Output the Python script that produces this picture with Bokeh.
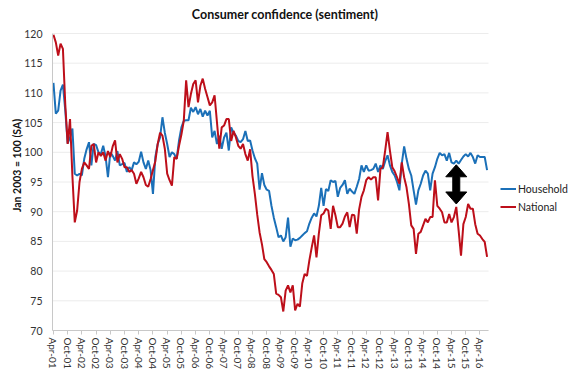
from bokeh.plotting import figure
from bokeh.models import FixedTicker, Range1d, Legend, LegendItem, Label
from bokeh.embed import file_html
from bokeh.resources import INLINE

# Monthly index values, Apr-01 ... Jul-16 (Jan 2003 = 100, seasonally adjusted)
household = [
    111.7, 106.5, 107.0, 110.4, 111.4, 107.0, 101.5, 102.5, 104.0, 96.4, 96.1, 96.4,
    96.1, 98.9, 100.5, 101.7, 97.8, 101.4, 101.2, 100.0, 99.7, 101.1, 99.3, 95.8,
    100.0, 99.4, 98.6, 100.2, 97.8, 98.0, 98.2, 96.7, 97.5, 97.0, 98.3, 98.0,
    98.4, 100.1, 98.3, 97.2, 98.6, 97.0, 93.0, 99.2, 101.4, 102.5, 105.9, 103.3,
    101.4, 99.2, 100.0, 99.7, 98.9, 102.0, 104.2, 105.3, 105.4, 105.4, 107.5, 106.8,
    107.6, 106.4, 107.3, 106.0, 107.0, 106.2, 107.0, 102.5, 103.6, 101.4, 102.8, 100.6,
    102.5, 103.3, 100.3, 104.2, 103.3, 102.8, 101.9, 101.7, 102.2, 103.6, 101.9, 102.0,
    100.3, 99.0, 98.1, 93.7, 96.5, 94.5, 93.7, 93.5, 91.0, 89.0, 87.4, 85.7,
    86.0, 85.0, 85.7, 89.0, 84.1, 85.5, 85.2, 85.3, 85.6, 86.0, 86.4, 86.7,
    88.0, 89.0, 89.7, 89.2, 91.0, 94.0, 91.0, 93.8, 93.5, 95.3, 95.0, 95.2,
    92.5, 94.0, 94.5, 95.3, 93.0, 93.9, 93.4, 93.0, 94.2, 95.5, 97.8, 96.7,
    97.8, 96.9, 97.0, 97.2, 98.1, 96.7, 97.8, 97.2, 98.5, 99.5, 97.8, 96.7,
    96.1, 95.0, 93.6, 98.1, 101.0, 98.9, 97.2, 96.1, 93.6, 91.2, 93.6, 94.7,
    96.1, 96.9, 96.4, 93.6, 96.4, 97.5, 98.9, 99.9, 99.5, 99.7, 98.6, 99.9,
    98.3, 98.1, 98.6, 98.1, 98.7, 99.3, 99.7, 99.3, 99.9, 99.2, 98.1, 99.5,
    99.2, 99.2, 99.2, 97.0,
]
national = [
    119.8, 118.5, 116.3, 118.3, 117.4, 108.0, 101.4, 105.6, 96.0, 88.2, 90.2, 95.0,
    97.2, 98.3, 97.8, 97.2, 101.1, 101.4, 98.3, 100.0, 99.4, 100.0, 98.6, 100.2,
    99.2, 101.0, 102.0, 98.3, 99.7, 98.9, 97.5, 97.5, 96.7, 97.0, 96.4, 94.7,
    95.6, 96.7, 95.8, 94.5, 94.2, 95.5, 97.0, 98.5, 101.4, 103.3, 102.8, 100.6,
    96.4, 95.3, 94.4, 99.2, 98.9, 101.1, 103.0, 105.3, 112.1, 107.6, 109.8, 111.5,
    112.1, 108.4, 111.2, 112.4, 110.7, 109.3, 107.9, 108.4, 109.6, 105.1, 100.6, 104.2,
    104.5, 105.6, 105.6, 101.9, 103.6, 102.5, 101.1, 100.6, 101.4, 99.7, 98.6, 100.5,
    96.0, 93.0, 89.5, 86.5, 84.5, 82.0, 81.5, 80.8, 80.2, 79.5, 76.2, 76.0,
    75.6, 73.2, 76.7, 77.6, 76.4, 77.6, 73.4, 74.5, 74.0, 77.9, 79.5, 79.2,
    81.8, 84.0, 86.0, 82.3, 86.3, 89.4, 89.7, 90.5, 90.2, 87.1, 91.0, 89.4,
    87.4, 87.4, 88.0, 89.2, 89.9, 87.4, 89.5, 89.4, 86.3, 90.4, 92.5, 93.6,
    95.3, 95.8, 95.4, 95.8, 95.8, 91.9, 97.2, 97.5, 100.3, 103.4, 100.3, 97.5,
    96.8, 95.8, 94.7, 98.3, 95.8, 94.1, 91.3, 87.7, 87.1, 82.9, 86.3, 86.6,
    87.7, 88.8, 88.2, 89.1, 89.1, 95.3, 91.0, 90.5, 89.9, 88.2, 88.2, 89.6,
    88.2, 89.1, 90.8, 86.8, 82.6, 87.9, 89.1, 91.3, 90.5, 90.5, 87.9, 86.3,
    86.0, 85.4, 84.9, 82.4,
]
tick_labels = [
    "Apr-01", "Oct-01", "Apr-02", "Oct-02", "Apr-03", "Oct-03", "Apr-04", "Oct-04",
    "Apr-05", "Oct-05", "Apr-06", "Oct-06", "Apr-07", "Oct-07", "Apr-08", "Oct-08",
    "Apr-09", "Oct-09", "Apr-10", "Oct-10", "Apr-11", "Oct-11", "Apr-12", "Oct-12",
    "Apr-13", "Oct-13", "Apr-14", "Oct-14", "Apr-15", "Oct-15", "Apr-16",
]
y_ticks = [70, 75, 80, 85, 90, 95, 100, 105, 110, 115, 120]
title_text = "Consumer confidence (sentiment)"
# gap arrow: month index (Jun-15 region) and value span
arrow_month = 170.0
arrow_top = 97.9
arrow_bottom = 91.3

months = list(range(len(household)))
tick_pos = [6 * i for i in range(len(tick_labels))]

FONT = "Lato"
W, H = 570, 372
BL, BB = 52, 42
PLOT_LEFT, PLOT_RIGHT, PLOT_TOP, PLOT_BOTTOM = 52, 488, 33, 330  # chart area in pixels
x0, x_end = -0.4, 183.6     # data extent of the chart area
y0, y_top = 70, 120
px_per_month = (PLOT_RIGHT - PLOT_LEFT) / (x_end - x0)
px_per_unit = (PLOT_BOTTOM - PLOT_TOP) / (y_top - y0)
# frame continues to the right and top edges (room for legend and title)
x1 = x0 + (W - PLOT_LEFT) / px_per_month
y1 = y_top + PLOT_TOP / px_per_unit

p = figure(width=W, height=H, output_backend="svg", toolbar_location=None,
           x_range=Range1d(x0, x1), y_range=Range1d(y0, y1),
           min_border_left=BL, min_border_right=0, min_border_top=0,
           min_border_bottom=BB)
p.outline_line_color = None
p.background_fill_color = "white"

# horizontal grid limited to the chart area
p.xgrid.grid_line_color = None
p.ygrid.grid_line_color = None
p.segment(x0=[x0] * len(y_ticks), x1=[x_end] * len(y_ticks), y0=y_ticks, y1=y_ticks,
          line_color="#ececec", line_width=1)

xa = p.xaxis[0]
xa.bounds = (x0, x_end)
xa.ticker = FixedTicker(ticks=tick_pos)
xa.major_label_overrides = {pos: lab for pos, lab in zip(tick_pos, tick_labels)}
xa.major_label_orientation = "vertical"
xa.major_label_text_font = FONT
xa.major_label_text_font_size = "10px"
xa.major_label_text_color = "#333333"
xa.axis_line_color = "#c8c8c8"
xa.major_tick_line_color = "#c8c8c8"
xa.major_tick_in = 0
xa.major_tick_out = 4
xa.minor_tick_line_color = None
xa.major_label_standoff = 3

ya = p.yaxis[0]
ya.bounds = (y0, y_top)
ya.ticker = FixedTicker(ticks=y_ticks)
ya.axis_label = "Jan 2003 = 100 (SA)"
ya.axis_label_text_font = FONT
ya.axis_label_text_font_size = "10.5px"
ya.axis_label_text_font_style = "bold"
ya.axis_label_text_color = "#111111"
ya.axis_label_standoff = -2
ya.major_label_text_font = FONT
ya.major_label_text_font_size = "10.5px"
ya.major_label_text_color = "#333333"
ya.axis_line_color = "#c8c8c8"
ya.major_tick_line_color = None
ya.major_tick_in = 0
ya.major_tick_out = 0
ya.minor_tick_line_color = None
ya.major_label_standoff = 10

r_h = p.line(months, household, line_color="#1b70b8", line_width=2)
r_n = p.line(months, national, line_color="#bd0f1a", line_width=2)

# title, centred above the chart at the page's centre line
p.add_layout(Label(x=x0 + (284.5 - PLOT_LEFT) / px_per_month,
                   y=y_top + (PLOT_TOP - 14) / px_per_unit,
                   text=title_text, text_align="center", text_baseline="middle",
                   text_font=FONT, text_font_size="12.5px", text_font_style="bold",
                   text_color="#111111"))

# double-headed arrow drawn as a polygon (sizes in pixels converted to data units)
dxp = 1.0 / px_per_month
dyp = 1.0 / px_per_unit
hw, hl, sw = 10.5, 12.0, 3.5
ax = [arrow_month, arrow_month + hw * dxp, arrow_month + sw * dxp, arrow_month + sw * dxp,
      arrow_month + hw * dxp, arrow_month, arrow_month - hw * dxp, arrow_month - sw * dxp,
      arrow_month - sw * dxp, arrow_month - hw * dxp]
ay = [arrow_top, arrow_top - hl * dyp, arrow_top - hl * dyp, arrow_bottom + hl * dyp,
      arrow_bottom + hl * dyp, arrow_bottom, arrow_bottom + hl * dyp, arrow_bottom + hl * dyp,
      arrow_top - hl * dyp, arrow_top - hl * dyp]
p.patch(ax, ay, fill_color="black", line_color="black", line_width=1)

legend = Legend(items=[LegendItem(label="Household", renderers=[r_h]),
                       LegendItem(label="National", renderers=[r_n])],
                location=(448, 116), orientation="vertical",
                glyph_width=16, glyph_height=15, label_height=15, spacing=3,
                padding=0, margin=0, label_standoff=2,
                label_text_font=FONT, label_text_font_size="10.5px",
                label_text_color="#222222",
                border_line_color=None, background_fill_alpha=0)
p.add_layout(legend, "center")

open("out.html", "w").write(file_html(p, INLINE))
